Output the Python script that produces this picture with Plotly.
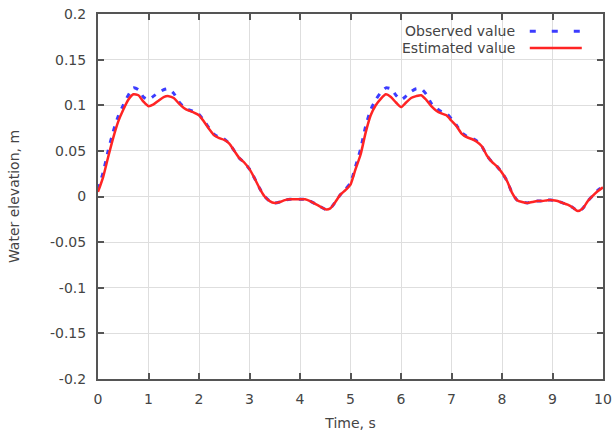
import plotly.graph_objects as go

# Sample times, s
time_s = [round(0.1 * i, 1) for i in range(101)]

# Estimated water elevation, m
estimated = [
    0.005, 0.021, 0.043, 0.064, 0.082, 0.095, 0.106, 0.112, 0.111, 0.104,
    0.099, 0.101, 0.105, 0.109, 0.110, 0.108, 0.102, 0.097, 0.094, 0.092,
    0.089, 0.082, 0.074, 0.067, 0.064, 0.062, 0.058, 0.050, 0.042, 0.037,
    0.030, 0.020, 0.009, 0.000, -0.005, -0.007, -0.006, -0.004, -0.003, -0.003,
    -0.003, -0.003, -0.005, -0.008, -0.011, -0.014, -0.013, -0.006, 0.002, 0.007,
    0.013, 0.030, 0.046, 0.070, 0.089, 0.100, 0.107, 0.112, 0.109, 0.103,
    0.098, 0.103, 0.108, 0.110, 0.111, 0.106, 0.099, 0.094, 0.091, 0.089,
    0.083, 0.077, 0.069, 0.065, 0.063, 0.060, 0.055, 0.045, 0.038, 0.033,
    0.026, 0.017, 0.004, -0.004, -0.006, -0.007, -0.006, -0.005, -0.005, -0.004,
    -0.004, -0.005, -0.007, -0.009, -0.012, -0.016, -0.013, -0.005, 0.001, 0.006,
    0.010,
]

# Observed water elevation, m
observed = [
    0.008, 0.026, 0.050, 0.071, 0.088, 0.100, 0.111, 0.119, 0.117, 0.109,
    0.106, 0.110, 0.114, 0.117, 0.118, 0.113, 0.104, 0.098, 0.095, 0.093,
    0.090, 0.083, 0.075, 0.068, 0.065, 0.063, 0.058, 0.050, 0.042, 0.037,
    0.030, 0.020, 0.009, 0.000, -0.005, -0.007, -0.006, -0.004, -0.003, -0.003,
    -0.003, -0.003, -0.005, -0.008, -0.011, -0.014, -0.013, -0.006, 0.002, 0.008,
    0.015, 0.033, 0.052, 0.077, 0.095, 0.106, 0.114, 0.119, 0.118, 0.111,
    0.106, 0.110, 0.115, 0.118, 0.118, 0.112, 0.102, 0.097, 0.093, 0.091,
    0.085, 0.078, 0.070, 0.066, 0.064, 0.061, 0.055, 0.045, 0.038, 0.033,
    0.026, 0.017, 0.004, -0.004, -0.006, -0.007, -0.006, -0.005, -0.005, -0.004,
    -0.004, -0.005, -0.007, -0.009, -0.012, -0.016, -0.013, -0.005, 0.001, 0.007,
    0.011,
]

x_ticks = list(range(0, 11))
y_ticks = [-0.2, -0.15, -0.1, -0.05, 0, 0.05, 0.1, 0.15, 0.2]
y_tick_text = ["-0.2", "-0.15", "-0.1", "-0.05", "0", "0.05", "0.1", "0.15", "0.2"]

series_names = ["Observed value", "Estimated value"]
BLUE = "#3c3cff"
RED = "#ff2424"
OBS_DASH = "5px,7px"
FONT = "DejaVu Sans"
TEXT_COLOR = "#444444"
FRAME_COLOR = "#555555"

fig = go.Figure()
fig.add_trace(go.Scatter(
    x=time_s, y=observed, name=series_names[0], mode="lines",
    line=dict(color=BLUE, width=3, dash=OBS_DASH, shape="spline", smoothing=0.6),
))
fig.add_trace(go.Scatter(
    x=time_s, y=estimated, name=series_names[1], mode="lines",
    line=dict(color=RED, width=2.5, shape="spline", smoothing=0.6),
))

axis_common = dict(
    showline=True, linecolor=FRAME_COLOR, linewidth=2, mirror="ticks",
    ticks="inside", ticklen=6, tickwidth=1.5, tickcolor=FRAME_COLOR,
    showgrid=True, gridcolor="#dedede", gridwidth=1, zeroline=False,
    tickfont=dict(family=FONT, size=14, color=TEXT_COLOR),
)

fig.update_xaxes(
    range=[0, 10], tickvals=x_ticks, ticklabelstandoff=6,
    title=dict(text="Time, s", font=dict(family=FONT, size=14, color=TEXT_COLOR), standoff=12),
    **axis_common,
)
fig.update_yaxes(
    range=[-0.2, 0.2], tickvals=y_ticks, ticktext=y_tick_text, ticklabelstandoff=7,
    title=dict(text="Water elevation, m", font=dict(family=FONT, size=14, color=TEXT_COLOR), standoff=27),
    **axis_common,
)

# Key drawn gnuplot-style: label on the left, line sample on the right
key_rows = [
    (series_names[0], 0.953, dict(color=BLUE, width=3, dash="6px,16px")),
    (series_names[1], 0.907, dict(color=RED, width=2.5)),
]
for label, ky, line_style in key_rows:
    fig.add_annotation(
        x=0.830, y=ky, xref="paper", yref="paper", text=label, showarrow=False,
        xanchor="right", yanchor="middle",
        font=dict(family=FONT, size=14, color=TEXT_COLOR),
    )
    fig.add_shape(
        type="line", xref="paper", yref="paper",
        x0=0.855, x1=0.958, y0=ky, y1=ky, line=line_style,
    )

fig.update_layout(
    width=616, height=439,
    margin=dict(l=98, r=13, t=14, b=60, autoexpand=False),
    paper_bgcolor="white", plot_bgcolor="white",
    showlegend=False,
)

fig.write_html("out.html")
